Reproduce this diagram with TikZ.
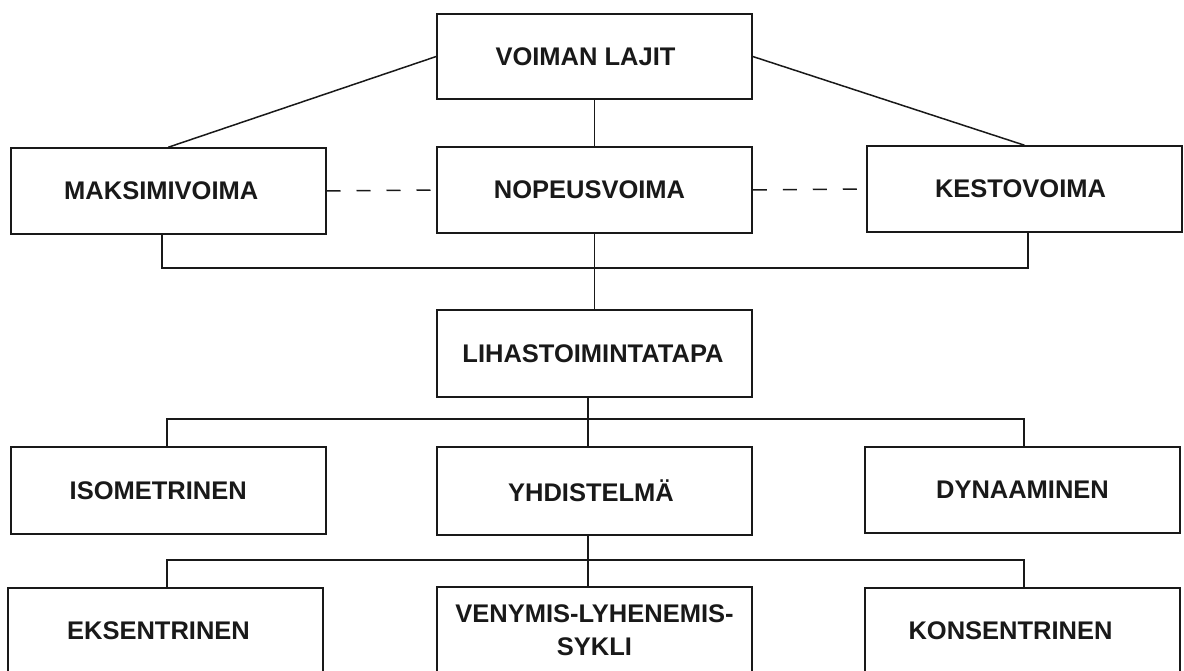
\documentclass[tikz,border=0pt]{standalone}
\usepackage{fontspec}
\setmainfont{Liberation Sans}
\newcommand{\lsh}[1]{\hspace*{-#1pt}}
\begin{document}
\begin{tikzpicture}[x=1pt,y=-1pt,
  box/.style={draw=black!90,line width=1.5pt,rectangle,inner sep=0pt,
    minimum width=315pt,minimum height=86pt,align=center,
    font=\fontsize{25.5}{33}\selectfont\bfseries,text=black!90},
  conn/.style={draw=black!90,line width=1.5pt},
  dashconn/.style={conn,dash pattern=on 14pt off 16pt}]
\useasboundingbox (0,0) rectangle (1184,671);
\clip (0,0) rectangle (1184,671);
\fill[white] (0,0) rectangle (1184,671);
\node[box,minimum height=85pt] (lajit) at (594.5,56.5) {\lsh{18}VOIMAN LAJIT};
\node[box] (maks) at (168.25,191) {\lsh{14}MAKSIMIVOIMA};
\node[box] (nop) at (594.5,190) {\lsh{10}NOPEUSVOIMA};
\node[box] (kesto) at (1024.5,189) {\lsh{8}KESTOVOIMA};
\node[box,minimum height=87pt] (lihas) at (594.5,353.5) {\lsh{3}LIHASTOIMINTATAPA};
\node[box,minimum height=87pt] (iso) at (168.25,490.5) {\lsh{20}ISOMETRINEN};
\node[box,minimum height=88pt] (yhd) at (594.5,491) {\lsh{7}YHDISTELMÄ};
\node[box] (dyna) at (1022.5,490) {DYNAAMINEN};
\node[box] (eks) at (165.5,631) {\lsh{14}EKSENTRINEN};
\node[box,minimum height=87pt] (ven) at (594.5,630.5) {VENYMIS-LYHENEMIS-\\SYKLI};
\node[box] (kons) at (1022.5,631) {\lsh{24}KONSENTRINEN};
% top connectors
\draw[conn] (lajit.west) -- (maks.north);
\draw[conn] (lajit.east) -- (kesto.north);
\draw[conn] (lajit.south) -- (nop.north);
\draw[dashconn] (maks.east) -- (nop.west);
\draw[dashconn] (nop.east) -- (kesto.west);
\coordinate (bus1) at (592,268);
\draw[conn] ([xshift=-6.25pt]maks.south) |- (bus1) -| ([xshift=3.5pt]kesto.south);
\draw[conn] (nop.south) -- (lihas.north);
% middle
\coordinate (bus2) at (588,419);
\draw[conn] ([xshift=-1.25pt]iso.north) |- (bus2) -| ([xshift=1.5pt]dyna.north);
\draw[conn] ([xshift=-6.5pt]lihas.south) -- ([xshift=-6.5pt]yhd.north);
% bottom
\coordinate (bus3) at (588,560);
\draw[conn] ([xshift=1.5pt]eks.north) |- (bus3) -| ([xshift=1.5pt]kons.north);
\draw[conn] ([xshift=-6.5pt]yhd.south) -- ([xshift=-6.5pt]ven.north);
\end{tikzpicture}
\end{document}
